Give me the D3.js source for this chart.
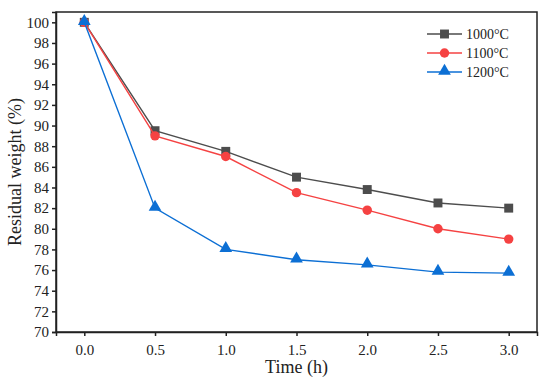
<!DOCTYPE html>
<html>
<head>
<meta charset="utf-8">
<script src="https://d3js.org/d3.v7.min.js"></script>
<style>
  body { margin: 0; background: #fff; }
  text { font-family: "Liberation Serif", "Times New Roman", serif; fill: #222; }
</style>
</head>
<body>
<svg></svg>
<script>
// data
var times = [0.0, 0.5, 1.0, 1.5, 2.0, 2.5, 3.0];
var w1000 = [100, 89.5, 87.5, 85.0, 83.8, 82.5, 82.0];
var w1100 = [100, 89.0, 87.0, 83.5, 81.8, 80.0, 79.0];
var w1200 = [100, 82.0, 78.0, 77.0, 76.5, 75.8, 75.7];
var seriesNames = ["1000\u00b0C", "1100\u00b0C", "1200\u00b0C"];
var xTicks = [0.0, 0.5, 1.0, 1.5, 2.0, 2.5, 3.0];
var yTicks = d3.range(70, 101, 2);

var width = 550, height = 384;
var margin = {top: 12, right: 13, bottom: 52, left: 56};

var svg = d3.select("svg").attr("width", width).attr("height", height);

var x = d3.scaleLinear().domain([-0.2, 3.2]).range([margin.left, width - margin.right]);
var y = d3.scaleLinear().domain([70, 101]).range([height - margin.bottom, margin.top]);

var series = [
  {name: seriesNames[0], values: w1000, color: "#4d4d4d", shape: d3.symbolSquare, size: 80},
  {name: seriesNames[1], values: w1100, color: "#f54242", shape: d3.symbolCircle, size: 70},
  {name: seriesNames[2], values: w1200, color: "#0c6fd4", shape: d3.symbolTriangle, size: 70}
];

// axes
svg.append("g")
  .attr("transform", "translate(0," + (height - margin.bottom) + ")")
  .call(d3.axisBottom(x).tickValues(xTicks).tickFormat(d3.format(".1f")).tickSizeOuter(0).tickSize(4).tickPadding(8));
svg.append("g")
  .attr("transform", "translate(" + margin.left + ",0)")
  .call(d3.axisLeft(y).tickValues(yTicks).tickSizeOuter(0).tickSize(4).tickPadding(3));

svg.selectAll(".tick text").style("font-size", "15px").style("font-family", "Liberation Serif").attr("fill", "#222");
svg.selectAll(".domain, .tick line").attr("stroke", "#222").attr("stroke-width", 1.5);

// frame: top and right
svg.append("rect")
  .attr("x", margin.left).attr("y", margin.top)
  .attr("width", width - margin.left - margin.right)
  .attr("height", height - margin.top - margin.bottom)
  .attr("fill", "none").attr("stroke", "#222").attr("stroke-width", 1.5);

// lines and markers
var line = d3.line()
  .x(function (d, i) { return x(times[i]); })
  .y(function (d) { return y(d); });

series.forEach(function (s) {
  svg.append("path")
    .attr("d", line(s.values))
    .attr("fill", "none")
    .attr("stroke", s.color)
    .attr("stroke-width", 1.4);
  svg.selectAll(null)
    .data(s.values)
    .enter().append("path")
    .attr("transform", function (d, i) {
      var dy = s.shape === d3.symbolTriangle ? -1 : 0;
      return "translate(" + x(times[i]) + "," + (y(d) + dy) + ")";
    })
    .attr("d", d3.symbol().type(s.shape).size(s.size))
    .attr("fill", s.color);
});

// legend
var legend = svg.append("g").attr("transform", "translate(427,34)");
series.forEach(function (s, i) {
  var g = legend.append("g").attr("transform", "translate(0," + (i * 19) + ")");
  g.append("line").attr("x1", 0).attr("x2", 35).attr("y1", 0).attr("y2", 0)
    .attr("stroke", s.color).attr("stroke-width", 1.4);
  g.append("path").attr("transform", "translate(17.5," + (s.shape === d3.symbolTriangle ? -1 : 0) + ")")
    .attr("d", d3.symbol().type(s.shape).size(s.size)).attr("fill", s.color);
  g.append("text").attr("x", 39).attr("y", 5).style("font-size", "14px").text(s.name);
});

// axis titles
svg.append("text")
  .attr("x", (margin.left + width - margin.right) / 2)
  .attr("y", 373)
  .attr("text-anchor", "middle")
  .style("font-size", "18px")
  .text("Time (h)");
svg.append("text")
  .attr("transform", "translate(21," + ((margin.top + height - margin.bottom) / 2) + ")rotate(-90)")
  .attr("text-anchor", "middle")
  .style("font-size", "18px")
  .text("Residual weight (%)");
</script>
</body>
</html>
